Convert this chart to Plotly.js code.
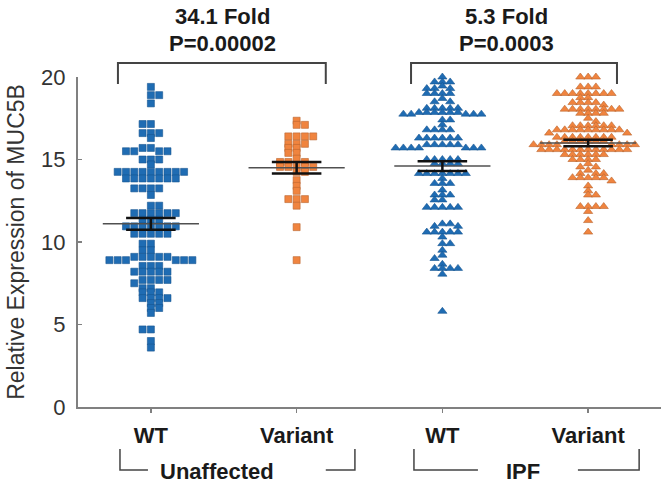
<!DOCTYPE html>
<html>
<head>
<meta charset="utf-8">
<script src="https://cdn.plot.ly/plotly-3.0.1.min.js"></script>
<style>
  body { margin: 0; background: #fff; }
  #myDiv { width: 661px; height: 488px; }
</style>
</head>
<body>
<div id="myDiv"></div>
<script>
// values, one entry per dot
var wtUnaffected = [
  19.4, 18.9, 18.9, 18.4, 17.15, 17.15, 16.6, 16.6, 16.6, 16.3,
  15.7, 15.7, 15.5, 15.5, 15.5, 15.5, 15.0, 15.0, 15.0, 14.7,
  14.25, 14.25, 14.25, 14.25, 14.25, 14.25, 14.25, 14.25, 14.25,
  13.85, 13.85, 13.85, 13.85, 13.85, 13.85, 13.85,
  13.25, 13.25, 13.25, 13.25, 12.85, 12.2, 12.2,
  11.75, 11.75, 11.75, 11.75, 11.75, 11.75, 11.35, 11.35, 11.35,
  10.95, 10.95, 10.95, 10.95, 10.95, 10.95, 10.95,
  10.5, 10.5, 10.5, 10.5, 10.5, 9.9, 9.9, 9.5, 9.5,
  9.1, 9.1, 9.1, 9.1, 9.1, 8.9, 8.9, 8.9, 8.9, 8.9, 8.9,
  8.55, 8.55, 8.55, 8.2, 8.2, 8.2, 8.2, 8.2,
  7.7, 7.7, 7.7, 7.7, 7.5, 7.2, 7.2, 6.95, 6.95, 6.95,
  6.6, 6.6, 6.6, 6.6, 6.3, 6.3, 6.0, 6.0, 5.7,
  4.7, 4.7, 4.0, 3.6
];
var variantUnaffected = [
  17.35, 17.1, 17.1, 16.4, 16.4, 16.4, 16.4, 15.95, 15.95, 15.95,
  15.7, 15.7, 15.4, 15.4, 15.05, 14.85, 14.85, 14.85,
  14.55, 14.55, 14.55, 14.55, 14.55, 14.25, 14.25,
  13.75, 13.4, 13.1, 12.6, 12.6, 12.6, 12.2, 10.9, 8.9
];
var wtIpf = [
  20.0, 19.7, 19.7, 19.7, 19.45, 19.3, 19.3, 19.3, 19.0, 19.0, 19.0, 19.0,
  18.7, 18.5, 18.5, 18.1, 18.1, 18.1, 18.1, 18.1,
  17.85, 17.85, 17.85, 17.85, 17.85, 17.85, 17.75, 17.75, 17.75, 17.75, 17.75,
  17.4, 17.4, 17.1, 16.8, 16.8, 16.8, 16.8,
  16.3, 16.3, 16.3, 16.3, 16.3, 16.3, 15.9, 15.9, 15.9, 15.9, 15.9,
  15.7, 15.7, 15.7, 15.7, 15.7, 15.7, 15.7,
  15.0, 15.0, 15.0, 15.0, 15.0, 14.75, 14.75, 14.75, 14.75,
  14.15, 14.15, 14.15, 14.15, 14.15, 14.15, 14.15, 13.85,
  13.55, 13.55, 13.55, 13.15, 12.85, 12.85, 12.85, 12.55, 12.55,
  12.1, 12.1, 12.1, 12.1, 12.1, 11.1, 11.1, 10.95, 10.95,
  10.6, 10.6, 10.6, 10.6, 10.6, 10.3, 9.9, 9.9, 9.5, 9.2, 9.0,
  8.65, 8.4, 8.4, 8.4, 8.4, 8.05, 5.8
];
var variantIpf = [
  20.0, 20.0, 20.0, 19.4, 19.4, 19.4,
  19.0, 19.0, 19.0, 19.0, 19.0, 19.0, 19.0, 19.0, 18.75, 18.75,
  18.45, 18.45, 18.45, 18.45, 18.3,
  18.05, 18.05, 18.05, 18.05, 18.05, 18.05, 18.05, 18.05,
  17.8, 17.8, 17.8, 17.8, 17.5, 17.3,
  17.05, 17.05, 17.05, 17.05, 17.05, 17.05,
  16.8, 16.8, 16.8, 16.8, 16.8, 16.8, 16.8, 16.8, 16.8, 16.6, 16.6,
  16.35, 16.35, 16.35, 16.35, 16.35, 16.35, 16.35, 16.35,
  16.1, 16.1, 16.1, 16.1, 16.1, 16.1,
  15.9, 15.9, 15.9, 15.9, 15.9, 15.9, 15.9, 15.9,
  15.6, 15.6, 15.6, 15.6, 15.6, 15.6, 15.6, 15.6, 15.6, 15.6, 15.6, 15.6,
  15.3, 15.3, 15.3, 15.3, 15.3, 15.3, 15.0, 15.0, 15.0, 15.0,
  14.75, 14.55, 14.55, 14.35, 14.15, 14.15, 14.15,
  13.9, 13.9, 13.9, 13.9, 13.9, 13.7, 13.4, 13.1, 12.85, 12.85,
  12.15, 12.15, 12.15, 12.15, 11.85, 11.3, 10.6
];

var groupLabels = ['WT', 'Variant', 'WT', 'Variant'];
var groupMeans = [11.1, 14.5, 14.6, 16.0];
var groupSems = [0.35, 0.35, 0.3, 0.2];

var W = 661, H = 488;
var M = {l: 78, r: 0, t: 77, b: 81};
var pxX = (W - M.l - M.r) / 4;   // px per category
var pxY = (H - M.t - M.b) / 20;  // px per unit

// simple beeswarm: put each dot as close to the centre as it fits
function swarm(vals, center, dxMin) {
  var placed = [], xs = [], flip = 1;
  var dyMin = 4;
  vals.forEach(function (v) {
    var y = v * pxY;
    var blocks = placed.filter(function (p) { return Math.abs(p.y - y) < dyMin; })
      .map(function (p) { return [p.x - dxMin, p.x + dxMin]; });
    var cands = [0];
    blocks.forEach(function (b) { cands.push(b[0], b[1]); });
    var best = null;
    cands.forEach(function (c) {
      var hit = blocks.some(function (b) { return c > b[0] + 1e-6 && c < b[1] - 1e-6; });
      if (hit) return;
      if (best === null || Math.abs(c) < Math.abs(best) - 1e-6 ||
          (Math.abs(Math.abs(c) - Math.abs(best)) < 1e-6 && c * flip > 0)) best = c;
    });
    flip = -flip;
    placed.push({x: best, y: y});
    xs.push(center + best / pxX);
  });
  return xs;
}

var blue = '#1f6cb3', orange = '#f0843f';

function dots(vals, i, color, symbol, size, edge, gap) {
  return {
    x: swarm(vals, i, gap), y: vals, type: 'scatter', mode: 'markers',
    marker: {color: color, symbol: symbol, size: size, line: {color: edge, width: 0.6}},
    cliponaxis: false, hoverinfo: 'y', showlegend: false
  };
}

var data = [
  dots(wtUnaffected, 0, blue, 'square', 7, '#175590', 8.3),
  dots(variantUnaffected, 1, orange, 'square', 7, '#b8652f', 8.3),
  dots(wtIpf, 2, blue, 'triangle-up', 8, '#175590', 7.8),
  dots(variantIpf, 3, orange, 'triangle-up', 8, '#b8652f', 7.8)
];

// mean line and SEM bars
groupMeans.forEach(function (m, i) {
  var s = groupSems[i];
  data.push({x: [i - 0.33, i + 0.33], y: [m, m], type: 'scatter', mode: 'lines',
    line: {color: '#505050', width: 1.5}, hoverinfo: 'skip', showlegend: false});
  data.push({x: [i - 0.17, i + 0.17, null, i - 0.17, i + 0.17, null, i, i],
    y: [m + s, m + s, null, m - s, m - s, null, m - s, m + s],
    type: 'scatter', mode: 'lines', line: {color: '#111', width: 2.5},
    hoverinfo: 'skip', showlegend: false});
});

var txt = {family: 'Liberation Sans, Arial, sans-serif', size: 22, color: '#1a1a1a', weight: 'bold'};
var lineCol = '#444';

function py(px) { return (H - M.b - px) / (H - M.t - M.b); }

function label(text, x, ypx) {
  return {text: text, x: x, xref: 'x', y: py(ypx), yref: 'paper',
    xanchor: 'center', yanchor: 'middle', showarrow: false, font: txt};
}

var layout = {
  width: W, height: H,
  margin: M,
  paper_bgcolor: '#fff', plot_bgcolor: '#fff',
  xaxis: {
    range: [-0.5, 3.5], tickvals: [0, 1, 2, 3], ticktext: groupLabels,
    showline: true, linecolor: '#808080', linewidth: 2,
    ticks: 'outside', ticklen: 4, tickcolor: '#808080', tickwidth: 1.5,
    showgrid: false, zeroline: false, tickfont: txt, ticklabelstandoff: 4,
    fixedrange: true
  },
  yaxis: {
    range: [0, 20], tickvals: [0, 5, 10, 15, 20],
    showline: true, linecolor: '#808080', linewidth: 2,
    ticks: 'inside', ticklen: 4, tickcolor: '#808080', tickwidth: 1.5,
    showgrid: false, zeroline: false, ticklabelstandoff: 6,
    tickfont: {family: 'Liberation Sans, Arial, sans-serif', size: 22, color: '#333'},
    title: {text: 'Relative Expression of MUC5B', standoff: 10,
      font: {family: 'Liberation Sans, Arial, sans-serif', size: 23, color: '#333'}},
    fixedrange: true
  },
  shapes: [
    {type: 'path', xref: 'x', yref: 'paper', path: 'M -0.226,' + py(84) + ' L -0.226,' + py(63) + ' L 1.2,' + py(63) + ' L 1.2,' + py(84), line: {color: lineCol, width: 2}},
    {type: 'path', xref: 'x', yref: 'paper', path: 'M 1.785,' + py(84) + ' L 1.785,' + py(63) + ' L 3.198,' + py(63) + ' L 3.198,' + py(84), line: {color: lineCol, width: 2}},
    {type: 'path', xref: 'x', yref: 'paper', path: 'M -0.212,' + py(449) + ' L -0.212,' + py(470) + ' L -0.02,' + py(470), line: {color: lineCol, width: 1.5}},
    {type: 'path', xref: 'x', yref: 'paper', path: 'M 1.2,' + py(470) + ' L 1.4,' + py(470) + ' L 1.4,' + py(449), line: {color: lineCol, width: 1.5}},
    {type: 'path', xref: 'x', yref: 'paper', path: 'M 1.805,' + py(449) + ' L 1.805,' + py(470) + ' L 2.244,' + py(470), line: {color: lineCol, width: 1.5}},
    {type: 'path', xref: 'x', yref: 'paper', path: 'M 2.93,' + py(470) + ' L 3.35,' + py(470) + ' L 3.35,' + py(449), line: {color: lineCol, width: 1.5}}
  ],
  annotations: [
    label('34.1 Fold', 0.488, 16),
    label('P=0.00002', 0.488, 43),
    label('5.3 Fold', 2.443, 16),
    label('P=0.0003', 2.443, 43),
    label('Unaffected', 0.454, 471),
    label('IPF', 2.553, 471)
  ]
};

Plotly.newPlot('myDiv', data, layout, {displayModeBar: false, staticPlot: true});
</script>
</body>
</html>
